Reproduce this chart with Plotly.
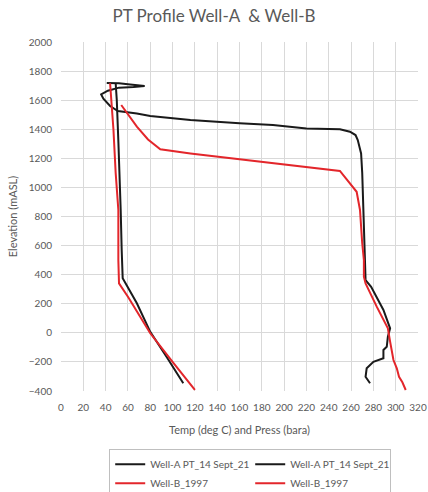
import plotly.graph_objects as go

# Well-A (black) temperature profile
wa_temp_x = [41, 52, 62, 75, 65, 52, 42, 36, 38, 44, 51, 68, 80, 116, 160, 190, 220, 250, 259, 264, 266, 269, 270, 271, 272, 273, 278, 289, 295, 293, 292, 289, 289, 280, 274, 273, 277]
wa_temp_y = [1718, 1716, 1708, 1698, 1690, 1686, 1665, 1640, 1610, 1560, 1525, 1509, 1491, 1464, 1441, 1429, 1406, 1400, 1383, 1360, 1326, 1234, 1100, 845, 570, 363, 317, 157, 31, -27, -96, -118, -175, -199, -244, -302, -347]

# Well-A (black) pressure profile
wa_pres_x = [49, 50, 51.5, 53, 53.5, 54.4, 55.3, 68, 80, 95, 109.6]
wa_pres_y = [1716, 1600, 1300, 1000, 845, 570, 375, 203, 7, -170, -347]

# Well-B (red) temperature profile
wb_temp_x = [54, 60, 68, 78, 89, 116, 160, 220, 250, 265, 268, 270, 271.5, 271.5, 273, 283, 293, 295, 298, 301, 303, 306, 309]
wb_temp_y = [1567, 1500, 1418, 1330, 1262, 1234, 1193, 1142, 1113, 970, 845, 616, 500, 386, 340, 180, 31, -61, -187, -244, -302, -340, -393]

# Well-B (red) pressure profile
wb_pres_x = [44, 47, 49, 51.4, 51.4, 52, 60, 80, 100, 120]
wb_pres_y = [1716, 1400, 1100, 845, 500, 340, 248, -3, -200, -393]

name_a = "Well-A PT_14 Sept_21"
name_b = "Well-B_1997"
black = "#1a1a1a"
red = "#e3262b"

fig = go.Figure()
fig.add_trace(go.Scatter(x=wa_temp_x, y=wa_temp_y, mode="lines", name=name_a,
                         line=dict(color=black, width=2)))
fig.add_trace(go.Scatter(x=wa_pres_x, y=wa_pres_y, mode="lines", name=name_a,
                         line=dict(color=black, width=2)))
fig.add_trace(go.Scatter(x=wb_temp_x, y=wb_temp_y, mode="lines", name=name_b,
                         line=dict(color=red, width=2)))
fig.add_trace(go.Scatter(x=wb_pres_x, y=wb_pres_y, mode="lines", name=name_b,
                         line=dict(color=red, width=2)))

font_fam = "Lato, Open Sans, sans-serif"
grey = "#595959"
grid = "#d9d9d9"

fig.update_layout(
    width=428, height=492,
    margin=dict(l=61, r=10, t=42, b=101, autoexpand=False),
    paper_bgcolor="white", plot_bgcolor="white",
    font=dict(family=font_fam, color=grey, size=10),
    title=dict(text="PT Profile Well-A  & Well-B", x=0.5, xanchor="center",
               y=0.967, yanchor="middle", font=dict(size=17, color=grey)),
    xaxis=dict(range=[0, 320], dtick=20, tick0=0, showgrid=True, gridcolor=grid,
               gridwidth=1, zeroline=False, showline=False, ticks="",
               ticklabelstandoff=9, automargin=False,
               tickfont=dict(size=10, color=grey),
               title=dict(text="Temp (deg C) and Press (bara)", font=dict(size=11, color=grey), standoff=14)),
    yaxis=dict(range=[-400, 2000], dtick=200, tick0=0, showgrid=True, gridcolor=grid,
               gridwidth=1, zeroline=False, showline=False, ticks="",
               ticklabelstandoff=8, automargin=False,
               tickfont=dict(size=10, color=grey),
               title=dict(text="Elevation (mASL)", font=dict(size=11, color=grey), standoff=8)),
    legend=dict(orientation="h", x=0.53, xanchor="center", y=0.088, yanchor="top",
                yref="container",
                bordercolor="#bfbfbf", borderwidth=1, entrywidth=95, entrywidthmode="pixels",
                itemwidth=30, font=dict(size=10, color=grey), tracegroupgap=0),
    showlegend=True,
)

fig.write_html("out.html")
